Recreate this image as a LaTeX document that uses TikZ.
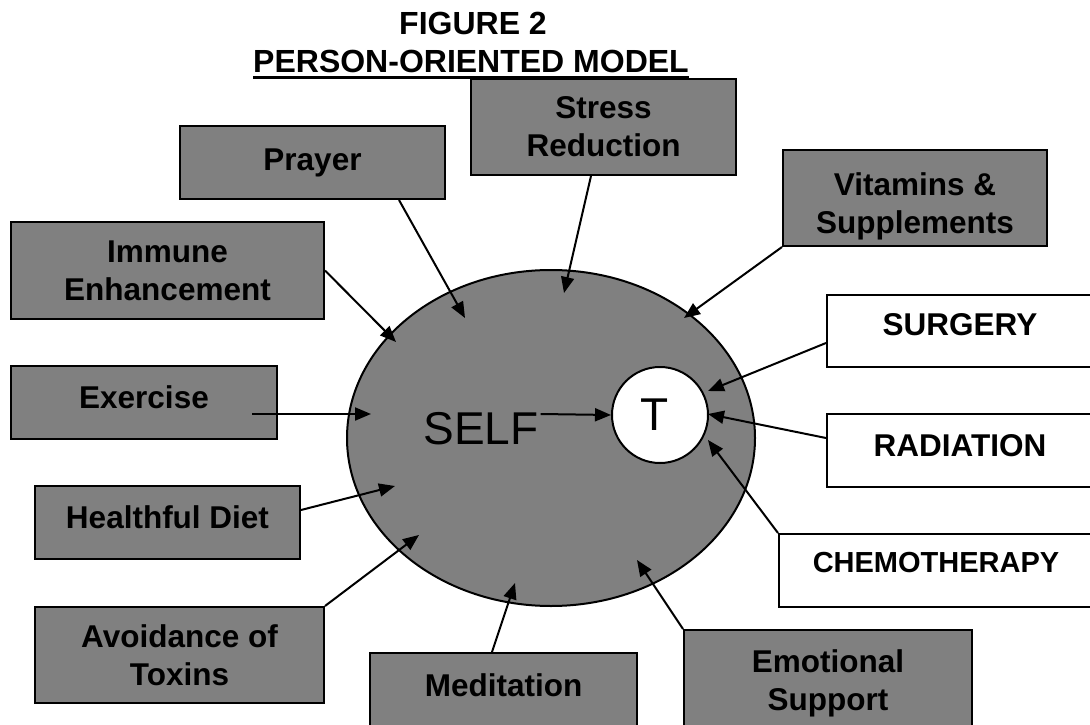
\documentclass[tikz,border=0pt]{standalone}
\usepackage{fontspec}
\setmainfont{Liberation Sans}
\usetikzlibrary{arrows.meta,shapes.geometric,calc}
\definecolor{boxgray}{HTML}{808080}
\begin{document}
\begin{tikzpicture}[x=1pt,y=-1pt,
  box/.style={draw=black, line width=2pt, fill=boxgray, rectangle, inner sep=0pt,
    align=center, font=\fontsize{31.5}{38}\selectfont\bfseries},
  wbox/.style={box, fill=white},
  arr/.style={line width=2pt, -{Triangle[length=16pt,width=13pt]}},
  titletext/.style={inner sep=0pt, font=\fontsize{32}{38}\selectfont\bfseries},
  bigtext/.style={inner sep=0pt, font=\fontsize{46}{52}\selectfont}
]
\useasboundingbox (0,0) rectangle (1090,725);
\clip (0,0) rectangle (1090,725);
\fill[white] (0,0) rectangle (1090,725);

% title
\node[titletext] (t1) at (473,23) {FIGURE 2};
\node[titletext] (t2) at (471,61) {PERSON-ORIENTED MODEL};
\draw[line width=3pt] ([yshift=-5.5pt]t2.base west) -- ([yshift=-5.5pt]t2.base east);

% self and tumour
\node[ellipse, draw=black, line width=2pt, fill=boxgray, inner sep=0pt,
  minimum width=408pt, minimum height=336pt] (self) at (551,438) {};
\node[bigtext] (selftxt) at (481,429) {SELF};
\node[circle, draw=black, line width=2pt, fill=white, inner sep=0pt,
  minimum size=96pt, font=\fontsize{46}{52}\selectfont] (T) at (660,415) {\kern-10pt T};

% boxes
\node[box, minimum width=265pt, minimum height=73pt] (prayer) at (312.5,162.5) {Prayer};
\node[box, minimum width=265pt, minimum height=96pt] (stress) at (603.5,127) {Stress\\Reduction};
\node[box, minimum width=264pt, minimum height=96pt] (vit) at (915,198) {\rule{0pt}{39pt}Vitamins \&\\Supplements};
\node[box, minimum width=313pt, minimum height=97pt] (immune) at (167.5,270.5) {Immune\\Enhancement};
\node[box, minimum width=266pt, minimum height=73pt, text depth=10pt] (exercise) at (144,402.5) {Exercise};
\node[box, minimum width=265pt, minimum height=73pt, text depth=10pt] (diet) at (167.5,522.5) {Healthful Diet};
\node[box, minimum width=289pt, minimum height=96pt] (avoid) at (179.5,655) {Avoidance of\\Toxins};
\node[box, minimum width=267pt, minimum height=100pt, text depth=36pt] (med) at (503.5,703) {Meditation};
\node[box, minimum width=288pt, minimum height=107pt] (emot) at (828,683.5) {Emotional\\Support};
\node[wbox, minimum width=266pt, minimum height=72pt, text depth=12pt] (surgery) at (960,331) {SURGERY};
\node[wbox, minimum width=266pt, minimum height=73pt, text depth=11pt] (radiation) at (960,450.5) {RADIATION};
\node[wbox, minimum width=314pt, minimum height=73pt, text depth=16pt,
  font=\fontsize{29}{34}\selectfont\bfseries] (chemo) at (936,570.5) {CHEMOTHERAPY};

% arrow targets
\coordinate (eprayer) at (465,318);
\coordinate (estress) at (564,293);
\coordinate (evit) at (684,318);
\coordinate (eimmune) at (396,342);
\coordinate (eexercise) at (371,414);
\coordinate (ediet) at (395,486);
\coordinate (eavoid) at (419,535);
\coordinate (emed) at (515,583);
\coordinate (eemot) at (637,560);
\coordinate (esurgery) at (708,391);
\coordinate (eradiation) at (708,414);
\coordinate (echemo) at (708,440);

% connectors
\draw[arr] ([xshift=86.5pt]prayer.south) -- (eprayer);
\draw[arr] ([xshift=-12.5pt]stress.south) -- (estress);
\draw[arr] (vit.south west) -- (evit);
\draw[arr] (immune.east) -- (eimmune);
\draw[arr] ([xshift=-26pt,yshift=-11.5pt]exercise.east) -- (eexercise);
\draw[arr] ([yshift=12.5pt]diet.east) -- (ediet);
\draw[arr] (avoid.north east) -- (eavoid);
\draw[arr] ([xshift=-11.5pt]med.north) -- (emed);
\draw[arr] (emot.north west) -- (eemot);
\draw[arr] ([yshift=-12pt]surgery.west) -- (esurgery);
\draw[arr] ([yshift=12.5pt]radiation.west) -- (eradiation);
\draw[arr] (chemo.north west) -- (echemo);
\draw[arr] ([xshift=2pt,yshift=15pt]selftxt.east) -- (T.west);
\end{tikzpicture}
\end{document}
